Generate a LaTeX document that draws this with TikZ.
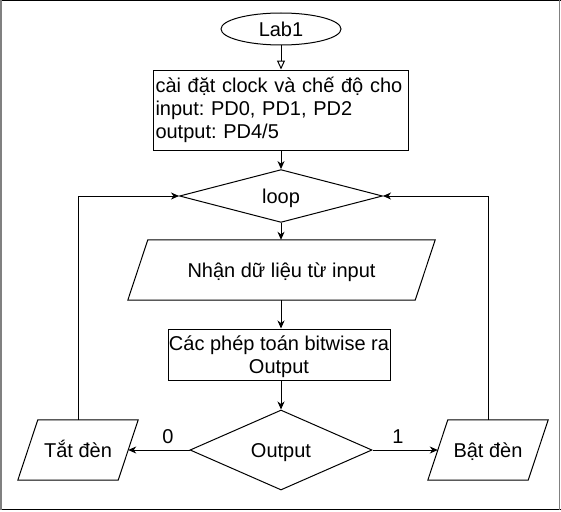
\documentclass[tikz,border=0pt]{standalone}
\usepackage{fontspec}
\setmainfont{Liberation Sans}
\frenchspacing
\usetikzlibrary{shapes.geometric,arrows.meta}
\begin{document}
\begin{tikzpicture}[x=1pt,y=-1pt,
 every node/.style={font=\fontsize{20}{23}\selectfont},
 box/.style={draw, line width=1pt, rectangle, inner sep=0pt},
 plain/.style={rectangle, inner sep=0pt},
 dia/.style={draw, diamond, line width=1pt, inner sep=0pt},
 ell/.style={draw, ellipse, line width=1pt, inner sep=0pt},
 low/.style={text height=15pt, text depth=0pt},
 flow/.style={line width=1pt, -{Stealth[length=8pt,width=7pt,inset=2.5pt]}},
 openflow/.style={line width=1pt, -{Triangle[open,length=9pt,width=8pt]}},
 shp/.style={line width=1pt}]
\useasboundingbox (0,0) rectangle (561,511);
% frame
\draw[black, line width=1pt] (0,0.5) -- (561,0.5);
\draw[black, line width=1pt] (0,509.5) -- (561,509.5);
\draw[gray, line width=1.5pt] (0.75,0) -- (0.75,510);
\draw[gray, line width=1.5pt] (559.5,0) -- (559.5,510);
% nodes
\node[ell, minimum width=120pt, minimum height=32pt] (lab) at (281,29) {Lab1};
\node[box, minimum width=255pt, minimum height=80pt, text width=250pt, align=left] (init) at (280.5,110) {cài đặt clock và chế độ cho\\input: PD0, PD1, PD2\\output: PD4/5};
\node[dia, low, minimum width=203pt, minimum height=52pt] (loop) at (281,196) {loop};
\node[plain, low, minimum width=307pt, minimum height=60pt] (recv) at (281.5,270) {Nhận dữ liệu từ input};
\draw[shp] ([xshift=20pt]recv.north west) -- (recv.north east) -- ([xshift=-20pt]recv.south east) -- (recv.south west) -- cycle;
\node[box, text depth=0pt, minimum width=222pt, minimum height=51pt, align=center] (ops) at (279,354.5) {Các phép toán bitwise ra\\Output};
\node[dia, low, minimum width=182pt, minimum height=80pt] (out) at (281,450) {Output};
\node[plain, low, minimum width=120pt, minimum height=60pt] (off) at (78,450) {Tắt đèn};
\draw[shp] ([xshift=20pt]off.north west) -- (off.north east) -- ([xshift=-20pt]off.south east) -- (off.south west) -- cycle;
\node[plain, low, minimum width=120pt, minimum height=60pt] (on) at (488,450) {Bật đèn};
\draw[shp] ([xshift=20pt]on.north west) -- (on.north east) -- ([xshift=-20pt]on.south east) -- (on.south west) -- cycle;
\node (l0) at (168,437) {0};
\node (l1) at (398,437) {1};
% connectors
\draw[openflow] (lab.south) -- (lab.south |- init.north);
\draw[flow] (loop.north |- init.south) -- (loop.north);
\draw[flow] (loop.south) -- (loop.south |- recv.north);
\draw[flow] (out.north |- recv.south) -- (out.north |- ops.north);
\draw[flow] (out.north |- ops.south) -- (out.north);
\draw[flow] (out.west) -- ([xshift=-10pt]off.east);
\draw[flow] (out.east) -- ([xshift=10pt]on.west);
\draw[flow] (off.north) |- (loop.west);
\draw[flow] (on.north) |- (loop.east);
\end{tikzpicture}
\end{document}
